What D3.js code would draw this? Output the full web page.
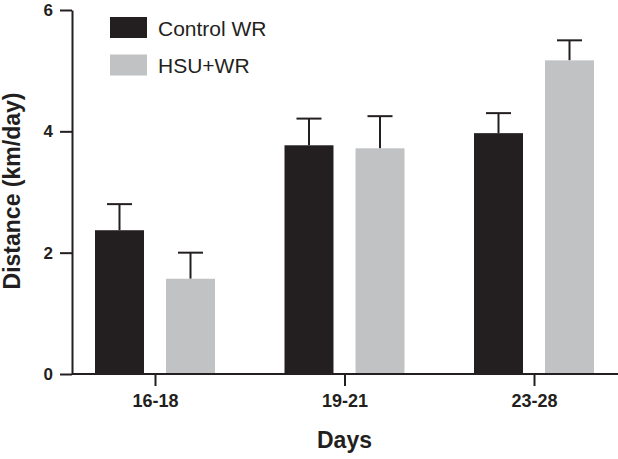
<!DOCTYPE html>
<html>
<head>
<meta charset="utf-8">
<script src="https://cdn.jsdelivr.net/npm/d3@7"></script>
<style>
  html, body { margin: 0; padding: 0; background: #fff; }
  svg { display: block; font-family: "Liberation Sans", Arial, Helvetica, sans-serif; }
</style>
</head>
<body>
<svg id="chart" width="618" height="459"></svg>
<script>
const categories = ["16-18", "19-21", "23-28"];
const seriesNames = ["Control WR", "HSU+WR"];
const controlValues = [2.37, 3.77, 3.97];
const controlErrors = [0.43, 0.44, 0.33];
const hsuValues = [1.57, 3.72, 5.17];
const hsuErrors = [0.43, 0.53, 0.33];
const yTicks = [0, 2, 4, 6];
const colors = ["#231f20", "#c1c2c4"];

const data = categories.map((c, i) => ({
  cat: c,
  bars: [
    { s: seriesNames[0], v: controlValues[i], e: controlErrors[i] },
    { s: seriesNames[1], v: hsuValues[i], e: hsuErrors[i] }
  ]
}));

const svg = d3.select("#chart");
const ink = "#231f20";

const y = d3.scaleLinear().domain([0, 6]).range([374, 10]);
const x = d3.scalePoint().domain(categories).range([155, 534]);
const x1 = d3.scaleBand().domain(seriesNames).range([-60, 60]).paddingInner(0.31).paddingOuter(0);
const color = d3.scaleOrdinal().domain(seriesNames).range(colors);

const groups = svg.selectAll("g.grp").data(data).join("g")
  .attr("class", "grp")
  .attr("transform", d => `translate(${x(d.cat)},0)`);

groups.selectAll("g.err").data(d => d.bars).join("g").attr("class", "err").each(function(d) {
  const g = d3.select(this);
  const cx = x1(d.s) + x1.bandwidth() / 2;
  g.append("line").attr("x1", cx).attr("x2", cx)
    .attr("y1", y(d.v)).attr("y2", y(d.v + d.e))
    .attr("stroke", ink).attr("stroke-width", 2);
  g.append("line").attr("x1", cx - 12.5).attr("x2", cx + 12.5)
    .attr("y1", y(d.v + d.e)).attr("y2", y(d.v + d.e))
    .attr("stroke", ink).attr("stroke-width", 2);
});

groups.selectAll("rect").data(d => d.bars).join("rect")
  .attr("x", d => x1(d.s))
  .attr("width", x1.bandwidth())
  .attr("y", d => y(d.v))
  .attr("height", d => y(0) - y(d.v))
  .attr("fill", d => color(d.s));

const yAxis = svg.append("g").attr("transform", "translate(72,0)")
  .call(d3.axisLeft(y).tickValues(yTicks).tickFormat(d3.format("d")).tickSize(12).tickSizeOuter(0).tickPadding(7));
yAxis.select(".domain").attr("stroke", ink).attr("stroke-width", 2);
yAxis.selectAll(".tick line").attr("stroke", ink).attr("stroke-width", 2);
yAxis.selectAll(".tick text").attr("fill", ink)
  .style("font-size", "17px").style("font-weight", "bold")
  .style("font-family", "'Liberation Sans', Arial, sans-serif");

const xAxis = svg.append("g").attr("transform", "translate(0,374)")
  .call(d3.axisBottom(x).tickSize(12).tickSizeOuter(0).tickPadding(8));
xAxis.select(".domain").attr("d", "M72,0H618").attr("stroke", ink).attr("stroke-width", 2);
xAxis.selectAll(".tick line").attr("stroke", ink).attr("stroke-width", 2);
xAxis.selectAll(".tick text").attr("fill", ink)
  .style("font-size", "18px").style("font-weight", "bold")
  .style("font-family", "'Liberation Sans', Arial, sans-serif");

svg.append("text")
  .attr("transform", "translate(20,191) rotate(-90)")
  .attr("text-anchor", "middle")
  .attr("fill", ink)
  .style("font-size", "23px").style("font-weight", "bold")
  .text("Distance (km/day)");

svg.append("text")
  .attr("x", 344.5).attr("y", 448)
  .attr("text-anchor", "middle")
  .attr("fill", ink)
  .style("font-size", "23px").style("font-weight", "bold")
  .text("Days");

const legend = svg.append("g").attr("transform", "translate(110,17)");
const li = legend.selectAll("g").data(seriesNames).join("g")
  .attr("transform", (d, i) => `translate(0,${i * 37.5})`);
li.append("rect").attr("width", 37).attr("height", 21).attr("fill", d => color(d));
li.append("text").attr("x", 48).attr("y", 18.5)
  .attr("fill", ink)
  .style("font-size", "21px")
  .text(d => d);
</script>
</body>
</html>
